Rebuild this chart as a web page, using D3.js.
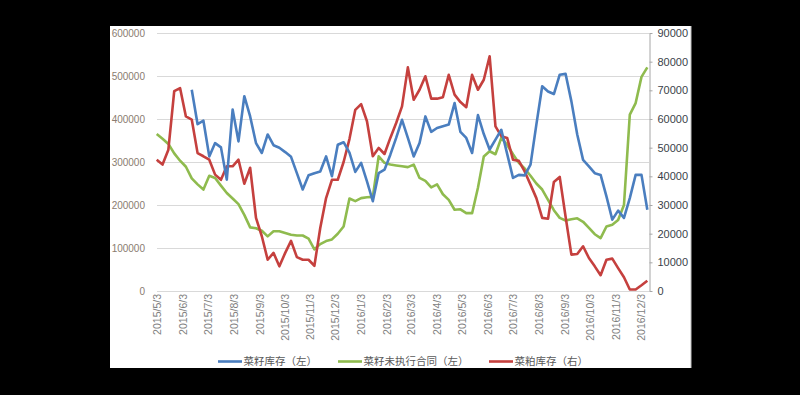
<!DOCTYPE html>
<html><head><meta charset="utf-8">
<script src="https://cdn.jsdelivr.net/npm/d3@7"></script>
<style>
body{margin:0;background:#000;}
svg{display:block;}
</style>
</head><body>
<svg id="chart" width="800" height="395"></svg>
<script>
// ---- data ----
const firstDate = "2015/5/3";          // weekly observations starting here
const tickLabels = ["2015/5/3","2015/6/3","2015/7/3","2015/8/3","2015/9/3","2015/10/3","2015/11/3","2015/12/3",
  "2016/1/3","2016/2/3","2016/3/3","2016/4/3","2016/5/3","2016/6/3","2016/7/3","2016/8/3","2016/9/3",
  "2016/10/3","2016/11/3","2016/12/3"];
const leftTicks = [0,100000,200000,300000,400000,500000,600000];
const rightTicks = [0,10000,20000,30000,40000,50000,60000,70000,80000,90000];
const seriesNames = ["菜籽库存（左）","菜籽未执行合同（左）","菜粕库存（右）"];

// 菜籽库存（左）  (thousands)
const seedStock = [null,null,null,null,null,null,
  468,388,396,313,344,334,259,422,348,453,406,344,321,364,339,333,323,312,274,236,269,274,278,313,267,340,346,
  322,277,298,255,209,274,282,317,356,398,356,313,344,406,370,379,383,387,437,370,356,321,409,365,329,352,375,
  319,263,270,269,294,387,476,464,458,503,505,441,364,305,290,274,270,220,166,187,170,216,270,270,189];
// 菜籽未执行合同（左） (thousands)
const seedContracts = [365,354,342,320,303,289,262,248,236,268,263,245,228,215,202,177,148,146,140,127,139,139,
  135,131,129,129,122,97,109,116,120,133,150,215,209,216,218,219,313,298,294,292,290,288,294,263,256,241,248,225,
  212,189,190,181,181,240,313,325,318,356,340,318,298,285,268,250,236,212,188,170,164,167,169,161,147,132,123,
  150,154,165,200,410,437,498,520];
// 菜粕库存（右） (thousands)
const mealStock = [45.8,44.1,49.3,69.7,70.8,60.9,59.8,48.1,47.0,45.8,40.6,38.8,43.5,43.5,45.8,37.4,43.0,25.5,19.1,
  10.9,13.3,8.6,13.3,17.5,11.8,10.9,10.9,8.8,22.0,32.4,38.8,38.8,45.0,53.0,63.2,65.2,59.2,47.0,49.9,47.8,53.4,58.6,
  64.4,78.0,66.7,70.2,74.9,67.1,67.1,67.6,75.4,68.5,65.9,64.1,75.4,70.2,73.7,81.9,57.4,54.0,53.4,45.8,45.4,41.7,
  37.1,32.4,25.5,25.2,38.0,39.8,26.0,12.7,12.9,15.6,11.5,8.6,5.5,10.9,11.3,8.0,4.8,0.5,0.5,2.0,3.6];

// ---- chart ----
const parse = d3.timeParse("%Y/%m/%d");
const start = parse(firstDate);
const dates = mealStock.map((_, i) => d3.timeDay.offset(start, 7 * i));
const tickDates = tickLabels.map(parse);

const svg = d3.select("#chart");
svg.append("rect").attr("x",110).attr("y",26).attr("width",581).attr("height",342).attr("fill","#fff");
svg.append("line").attr("x1",691).attr("x2",691).attr("y1",26).attr("y2",368).attr("stroke","#bfbfbf");

const x = d3.scaleTime().domain([start, d3.timeDay.offset(dates[dates.length-1], 2)]).range([156.7, 649]);
const yL = d3.scaleLinear().domain([0, 600000]).range([291, 33]);
const yR = d3.scaleLinear().domain([0, 90000]).range([291, 33]);

// gridlines
svg.append("g").selectAll("line").data(leftTicks).join("line")
  .attr("x1",157).attr("x2",649)
  .attr("y1",d=>Math.round(yL(d))+0.5).attr("y2",d=>Math.round(yL(d))+0.5)
  .attr("stroke","#d9d9d9").attr("stroke-width",1);

// left axis labels
const gL = svg.append("g").attr("transform","translate(145,0)")
  .call(d3.axisLeft(yL).tickValues(leftTicks).tickSize(0).tickPadding(0).tickFormat(d3.format("d")));
gL.select(".domain").remove();
gL.selectAll("text").attr("fill","#8a7c70").style("font-family","Liberation Sans, Arial, sans-serif").style("font-size","10px");

// right axis
const gR = svg.append("g").attr("transform","translate(649.5,0)")
  .call(d3.axisRight(yR).tickValues(rightTicks).tickSize(3).tickSizeOuter(0).tickPadding(5).tickFormat(d3.format("d")));
gR.select(".domain").attr("stroke","#a6a6a6");
gR.selectAll(".tick line").attr("stroke","#a6a6a6");
gR.selectAll("text").attr("fill","#3a3f4a").style("font-family","Liberation Sans, Arial, sans-serif").style("font-size","11px");

// x axis
const gX = svg.append("g").attr("transform","translate(0,291)")
  .call(d3.axisBottom(x).tickValues(tickDates).tickSize(0).tickFormat((d,i)=>tickLabels[i]));
gX.select(".domain").remove();
gX.selectAll("text")
  .attr("y",0).attr("x",-3).attr("dy","0.35em")
  .attr("transform","rotate(-90)")
  .style("text-anchor","end")
  .attr("fill","#808080")
  .style("font-family","Liberation Sans, Arial, sans-serif").style("font-size","10.5px");

// lines
const colors = ["#4a7ebf","#8fbb4e","#c5403e"];
const lineL = d3.line().defined(d=>d[1]!=null).x(d=>x(d[0])).y(d=>yL(d[1]*1000));
const lineR = d3.line().defined(d=>d[1]!=null).x(d=>x(d[0])).y(d=>yR(d[1]*1000));
const pts = arr => arr.map((v,i)=>[dates[i], v]);

svg.append("path").attr("d", lineL(pts(seedContracts))).attr("fill","none")
  .attr("stroke",colors[1]).attr("stroke-width",2.6).attr("stroke-linejoin","round");
svg.append("path").attr("d", lineR(pts(mealStock))).attr("fill","none")
  .attr("stroke",colors[2]).attr("stroke-width",2.6).attr("stroke-linejoin","round");
svg.append("path").attr("d", lineL(pts(seedStock))).attr("fill","none")
  .attr("stroke",colors[0]).attr("stroke-width",2.6).attr("stroke-linejoin","round");

// legend
const legendX = [218, 338, 489];
const lg = svg.append("g").selectAll("g").data(seriesNames).join("g")
  .attr("transform",(d,i)=>`translate(${legendX[i]},361.5)`);
lg.append("line").attr("x1",0).attr("x2",24).attr("y1",0).attr("y2",0)
  .attr("stroke",(d,i)=>colors[i]).attr("stroke-width",2.6);
lg.append("text").attr("x",25.5).attr("y",0).attr("dy","0.36em").text(d=>d)
  .attr("fill","#595959").style("font-family","Noto Sans CJK SC, sans-serif").style("font-size","10.5px");
</script>
</body></html>
